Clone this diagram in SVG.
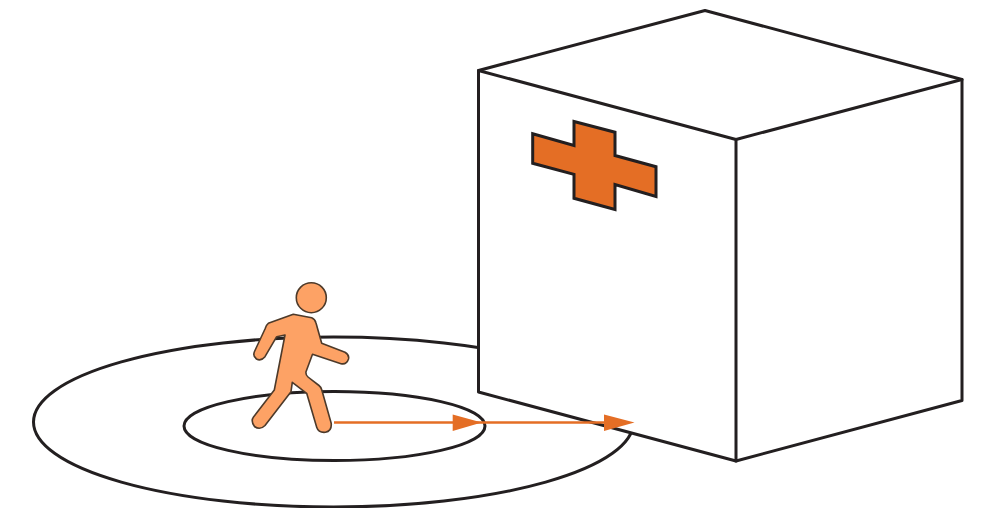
<svg xmlns="http://www.w3.org/2000/svg" width="987" height="508" viewBox="0 0 987 508">
  <style>
    .ln { fill: none; stroke: #231f20; stroke-width: 3; stroke-linejoin: round; stroke-linecap: round; }
    .face { fill: #ffffff; stroke: #231f20; stroke-width: 3; stroke-linejoin: round; }
    .cross { fill: #e46e25; stroke: #231f20; stroke-width: 3; stroke-linejoin: miter; }
    .person { fill: #fda265; stroke: #4d3a2a; stroke-width: 1.6; stroke-linejoin: round; }
    .arrow { fill: none; stroke: #e46e25; stroke-width: 2.6; }
    .head { fill: #e46e25; }
  </style>
  <rect width="987" height="508" fill="#ffffff"/>
  <g id="outer-zone"><ellipse class="ln" cx="333.500" cy="422" rx="300" ry="85"/></g>
  <g id="inner-zone"><ellipse class="ln" cx="334.500" cy="426" rx="150.500" ry="34.500"/></g>
  <g id="building">
    <path class="face" d="M478.500 70.500 L705 10.500 L962 79.500 L962 400.500 L736 461 L478.500 392 Z"/>
    <path class="ln" d="M478.500 70.500 L736 139.500 L962 79.500 M736 139.500 L736 461"/>
    <path class="cross" d="M532.700 133.800 L574 145.500 L574 121.500 L615 132.200 L615 155.500 L656 166.700 L656 196.500 L615 184.500 L615 209.500 L574 198.300 L574 174.300 L532.700 163.300 Z"/>
  </g>
  <g id="person">
    <circle class="person" cx="311.300" cy="297.700" r="15"/>
    <path class="person" d="M268.300 323.300 L293.300 314.300 L311.700 317.700 Q315 319 316 323 L321.700 343.300 L345 352.300 Q349.500 355 348.500 359 Q346.500 365 341 363.700 L312.500 354.300 L306 371.700 Q305.500 375 308 377 L319 385.500 Q321 387 321.800 390 L331.200 423.300 Q332 431 325.500 432.300 Q318.500 433 316.700 427.300 L306.700 393.300 L292.300 382.300 L291 391.700 L265 425.500 Q260 430.500 254.500 426.500 Q250.500 421 253.500 417 L274.300 390 L285 335 L276.700 336.700 L265 356.700 Q261 361.500 256.500 359 Q252.500 356 254.500 351.500 L265 329 Q266 325 268.300 323.300 Z"/>
  </g>
  <g id="connectors">
    <path class="arrow" d="M334 422.500 L612 422.500"/>
    <path class="head" d="M452.700 414.500 L481.700 422.500 L452.700 431 Z"/>
    <path class="head" d="M604 414.500 L634.500 422.500 L604 431 Z"/>
  </g>
</svg>
